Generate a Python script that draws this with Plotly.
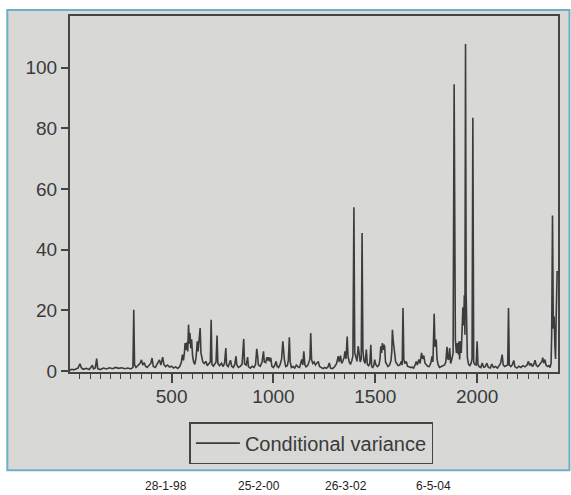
import plotly.graph_objects as go

obs = [1, 10, 20, 30, 40, 50, 56, 65, 80, 95, 105, 111, 116, 125, 132, 137, 150, 165, 180, 195,
       210, 225, 240, 255, 270, 285, 300, 310, 314, 318, 325, 335, 345, 352, 358, 365, 372, 380, 390, 398,
       404, 410, 420, 428, 435, 440, 447, 456, 462, 470, 480, 490, 500, 510, 520, 530, 540, 548, 553, 558,
       563, 566, 570, 575, 579, 583, 587, 590, 594, 598, 603, 608, 614, 620, 626, 630, 635, 640, 644, 648,
       653, 660, 668, 675, 682, 690, 694, 698, 705, 712, 718, 723, 727, 735, 745, 752, 760, 766, 770, 778,
       785, 789, 795, 803, 810, 816, 820, 828, 838, 846, 854, 858, 866, 873, 877, 886, 895, 905, 912, 918,
       922, 926, 935, 944, 951, 955, 962, 968, 972, 977, 981, 987, 992, 1000, 1007, 1013, 1018, 1025, 1032, 1040,
       1046, 1050, 1054, 1060, 1068, 1073, 1078, 1082, 1088, 1096, 1104, 1112, 1120, 1128, 1134, 1139, 1144, 1149, 1154, 1160,
       1168, 1174, 1179, 1183, 1187, 1193, 1200, 1206, 1212, 1220, 1226, 1235, 1244, 1252, 1260, 1268, 1274, 1280, 1290, 1300,
       1310, 1318, 1323, 1329, 1335, 1342, 1347, 1351, 1356, 1362, 1366, 1372, 1378, 1385, 1390, 1395, 1399, 1404, 1410, 1416,
       1421, 1426, 1431, 1435, 1439, 1444, 1450, 1456, 1461, 1467, 1473, 1478, 1482, 1488, 1493, 1497, 1502, 1510, 1518, 1523,
       1527, 1531, 1535, 1539, 1543, 1546, 1550, 1556, 1562, 1570, 1577, 1581, 1584, 1588, 1592, 1595, 1600, 1606, 1612, 1620,
       1628, 1632, 1636, 1640, 1645, 1652, 1658, 1665, 1672, 1680, 1688, 1695, 1701, 1706, 1714, 1720, 1727, 1732, 1738, 1744,
       1750, 1757, 1764, 1772, 1779, 1783, 1789, 1793, 1799, 1803, 1808, 1815, 1824, 1832, 1840, 1846, 1852, 1856, 1860, 1865,
       1870, 1876, 1882, 1887, 1890, 1893, 1898, 1903, 1907, 1911, 1914, 1918, 1922, 1926, 1930, 1934, 1937, 1940, 1943, 1946,
       1949, 1952, 1958, 1964, 1970, 1975, 1979, 1983, 1988, 1995, 2000, 2004, 2010, 2018, 2025, 2032, 2040, 2048, 2055, 2064,
       2072, 2080, 2090, 2100, 2108, 2115, 2123, 2128, 2135, 2142, 2150, 2154, 2158, 2165, 2172, 2180, 2185, 2195, 2205, 2215,
       2225, 2235, 2245, 2252, 2258, 2265, 2272, 2280, 2284, 2290, 2298, 2305, 2312, 2318, 2322, 2327, 2333, 2338, 2345, 2352,
       2358, 2363, 2366, 2370, 2374, 2378, 2382, 2385, 2388, 2393]

variance = [0.3, 0.6, 0.4, 0.8, 1.0, 2.4, 1.2, 0.6, 0.9, 0.5, 1.2, 1.9, 0.7, 1.0, 4.1, 0.8, 0.5, 1.0, 0.7, 1.1,
            0.8, 1.2, 0.9, 1.1, 0.8, 1.0, 0.7, 1.2, 20.2, 2.0, 1.2, 1.8, 2.6, 3.7, 2.0, 2.8, 1.6, 1.2, 1.8, 2.6,
            4.3, 1.5, 1.2, 2.2, 3.2, 3.7, 2.0, 4.6, 2.2, 1.5, 2.0, 1.3, 1.6, 1.0, 1.4, 0.9, 1.5, 3.0, 5.4, 3.5,
            6.2, 9.2, 7.0, 9.5, 6.5, 15.3, 9.0, 12.5, 7.5, 10.5, 4.9, 3.0, 2.2, 4.5, 9.8, 6.5, 10.5, 14.2, 6.0, 4.9,
            3.0, 2.5, 3.2, 1.8, 2.5, 3.0, 16.9, 2.2, 1.6, 2.5, 3.0, 11.7, 2.5, 1.8, 2.6, 1.5, 2.6, 7.6, 2.0, 1.5,
            2.5, 3.6, 1.6, 1.2, 2.2, 4.9, 2.0, 1.2, 1.6, 2.3, 10.6, 2.4, 2.0, 4.6, 1.5, 1.0, 1.6, 1.2, 2.2, 7.3,
            5.0, 2.0, 1.6, 3.0, 6.5, 3.0, 2.8, 4.6, 3.5, 4.6, 3.2, 4.4, 1.6, 1.2, 2.0, 3.2, 1.6, 1.2, 2.0, 4.0,
            9.8, 6.0, 3.5, 1.5, 1.8, 3.5, 11.1, 3.0, 1.2, 1.5, 1.0, 2.0, 1.4, 1.2, 2.5, 3.8, 2.0, 6.5, 2.2, 1.4,
            1.8, 3.0, 4.0, 12.5, 3.8, 2.5, 3.0, 2.0, 2.4, 3.2, 1.5, 1.0, 0.8, 1.2, 0.9, 1.4, 2.7, 1.0, 0.8, 1.4,
            2.5, 4.9, 3.0, 5.1, 2.5, 3.5, 4.5, 6.5, 4.0, 11.4, 4.9, 3.0, 2.2, 3.5, 5.0, 54.0, 6.0, 4.9, 3.2, 8.2,
            5.5, 3.0, 4.0, 45.5, 7.0, 3.5, 2.5, 7.1, 2.2, 1.8, 2.5, 8.7, 1.5, 1.2, 2.0, 3.8, 2.2, 1.5, 2.0, 4.0,
            8.2, 6.0, 9.2, 7.0, 8.7, 8.0, 3.0, 2.2, 1.5, 2.0, 3.5, 6.5, 13.6, 10.0, 7.1, 5.5, 3.0, 2.4, 1.8, 2.0,
            3.2, 2.0, 20.8, 3.8, 2.5, 3.2, 1.6, 1.4, 1.2, 1.3, 1.0, 2.0, 3.2, 2.0, 3.8, 2.5, 6.0, 4.0, 5.1, 2.6,
            2.0, 1.6, 1.5, 2.5, 4.9, 3.0, 18.9, 8.0, 10.4, 4.0, 2.2, 1.2, 1.5, 1.8, 2.0, 3.0, 8.0, 4.0, 3.8, 7.6,
            2.5, 4.0, 6.0, 94.5, 38.0, 10.4, 6.0, 9.2, 5.5, 9.8, 3.8, 9.8, 6.0, 13.6, 21.0, 15.0, 25.0, 12.0, 107.8, 25.0,
            12.0, 4.4, 2.2, 1.8, 2.5, 4.0, 83.5, 3.0, 2.2, 2.0, 9.8, 2.2, 1.5, 1.2, 2.7, 1.3, 1.5, 2.6, 1.2, 1.0,
            2.3, 1.2, 1.5, 1.0, 1.8, 2.5, 5.4, 2.0, 1.5, 1.8, 2.0, 20.8, 2.0, 1.5, 2.0, 3.5, 1.5, 1.0, 1.6, 1.2,
            1.8, 1.4, 2.0, 3.2, 1.8, 2.5, 1.5, 2.5, 3.6, 2.0, 1.5, 2.0, 2.5, 3.2, 4.4, 2.6, 3.8, 2.0, 1.5, 1.8,
            1.2, 2.5, 12.0, 51.3, 14.0, 18.0, 8.0, 4.0, 18.0, 33.0]

x_tick_vals = [500, 1000, 1500, 2000]
y_tick_vals = [0, 20, 40, 60, 80, 100]
date_labels = ["28-1-98", "25-2-00", "26-3-02", "6-5-04"]
date_label_x = [0.1957, 0.3874, 0.5647, 0.7441]

W, H = 571, 495
L, R, T, B = 70, 10.5, 16, 122.5
pw, ph = W - L - R, H - T - B

def px_x(p):
    return (p - L) / pw

def px_y(p):
    return (H - B - p) / ph

axis_color = "#444444"
text_color = "#3a3a3a"
font_family = "Liberation Sans, Arial, sans-serif"

fig = go.Figure()
fig.add_trace(go.Scatter(
    x=obs, y=variance, mode="lines", name="Conditional variance",
    line=dict(color="#3c3c3c", width=1.6),
))

fig.update_layout(
    width=W, height=H,
    margin=dict(l=L, r=R, t=T, b=B),
    paper_bgcolor="white",
    plot_bgcolor="rgba(0,0,0,0)",
    font=dict(family=font_family, size=19, color=text_color),
    showlegend=True,
    legend=dict(
        x=px_x(190), y=px_y(422.7), xanchor="left", yanchor="top",
        bordercolor=axis_color, borderwidth=1.5, bgcolor="rgba(0,0,0,0)",
        itemwidth=44,
        font=dict(family=font_family, size=20, color=text_color),
    ),
    shapes=[dict(
        type="rect", xref="paper", yref="paper",
        x0=px_x(7), x1=px_x(572), y0=px_y(471), y1=px_y(10),
        fillcolor="#d8d8d6", line=dict(color="#6ab2c2", width=2), layer="below",
    )],
)

for lx, lt in zip(date_label_x, date_labels):
    fig.add_annotation(
        x=lx, y=px_y(487), xref="paper", yref="paper", text=lt, showarrow=False,
        xanchor="center", yanchor="middle",
        font=dict(family=font_family, size=12, color="#222222"),
    )

fig.update_xaxes(
    range=[1, 2397], tickvals=x_tick_vals, ticks="outside", ticklen=9, tickwidth=1.5,
    tickcolor=axis_color, showline=True, linecolor=axis_color, linewidth=2, mirror=True,
    showgrid=False, zeroline=False, ticklabelstandoff=-3,
    minor=dict(dtick=50, tick0=0, ticks="outside", ticklen=5, tickwidth=1.3, tickcolor=axis_color, showgrid=False),
    tickfont=dict(size=19, color=text_color),
)
fig.update_yaxes(
    range=[-0.3, 117], tickvals=y_tick_vals, ticks="outside", ticklen=7, tickwidth=1.5,
    tickcolor=axis_color, showline=True, linecolor=axis_color, linewidth=2, mirror=True,
    showgrid=False, zeroline=False,
    tickfont=dict(size=19, color=text_color),
)

fig.write_html("out.html")
